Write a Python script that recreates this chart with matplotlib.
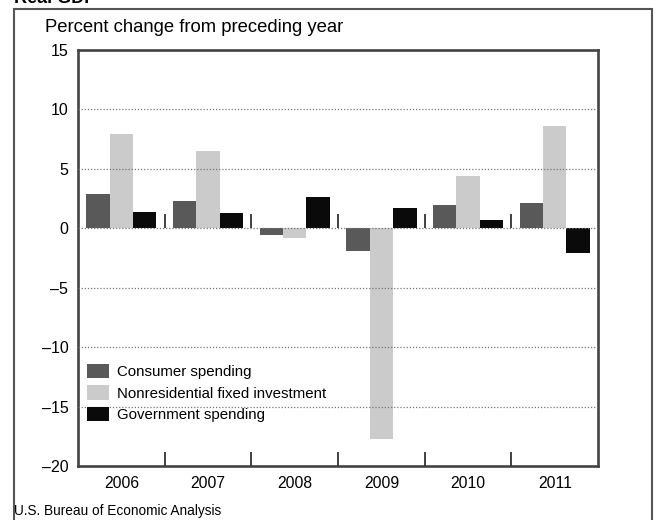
import numpy as np
import matplotlib.pyplot as plt
from matplotlib.patches import Rectangle

years = ['2006', '2007', '2008', '2009', '2010', '2011']
consumer = [2.9, 2.3, -0.6, -1.9, 2.0, 2.1]
nonres = [7.9, 6.5, -0.8, -17.7, 4.4, 8.6]
government = [1.4, 1.3, 2.6, 1.7, 0.7, -2.1]
series_labels = ['Consumer spending', 'Nonresidential fixed investment', 'Government spending']
yticks = [15, 10, 5, 0, -5, -10, -15, -20]

plt.rcParams['font.family'] = ['Liberation Sans', 'DejaVu Sans']

fig = plt.figure(figsize=(6.58, 5.2), dpi=100)
ax = fig.add_axes([0.1185, 0.1038, 0.7905, 0.8])

x = np.arange(len(years))
w = 0.27
cols = ['#595959', '#cbcbcb', '#0a0a0a']
for i, (vals, c, lab) in enumerate(zip([consumer, nonres, government], cols, series_labels)):
    ax.bar(x + (i - 1) * w, vals, width=w, color=c, label=lab, zorder=2)

ax.set_xlim(-0.5, len(years) - 0.5)
ax.set_ylim(-20, 15)
ax.set_yticks(yticks)
ax.set_yticklabels([str(v).replace('-', '\u2013') for v in yticks], fontsize=11.5)
ax.set_xticks(x)
ax.set_xticklabels(years, fontsize=11.3)
ax.tick_params(axis='both', length=0)
ax.tick_params(axis='y', pad=7)
ax.tick_params(axis='x', pad=7)

# dotted gridlines drawn over the bars
for v in yticks[1:-1]:
    ax.axhline(v, color='#777777', lw=0.9, ls=(0, (1, 1.5)), zorder=3)

# small separators between year groups (bottom and zero line)
bounds = x[:-1] + 0.5
ax.vlines(bounds, -20, -18.8, color='#333333', lw=1.3, zorder=4)
ax.vlines(bounds, 0, 1.2, color='#333333', lw=1.3, zorder=4)

for s in ax.spines.values():
    s.set_color('#444444')
    s.set_linewidth(1.9)

leg = ax.legend(loc='upper left', bbox_to_anchor=(0.005, 0.26), frameon=False,
                fontsize=10.8, handlelength=1.5, handleheight=1.1,
                handletextpad=0.5, labelspacing=0.42, borderaxespad=0)

fig.text(0.068, 0.947, 'Percent change from preceding year', fontsize=13.3, va='center')
fig.text(0.022, 0.018, 'U.S. Bureau of Economic Analysis', fontsize=9.8, va='center')
fig.text(0.022, 1 - 3 / 520, 'Real GDP', fontsize=13, fontweight='bold', va='baseline')

fig.patches.append(Rectangle((14 / 658, -0.05), (652 - 14) / 658, 1.05 - 9 / 520,
                             transform=fig.transFigure, fill=False,
                             edgecolor='#555555', lw=1.5))

fig.savefig('out.png', dpi=100)
